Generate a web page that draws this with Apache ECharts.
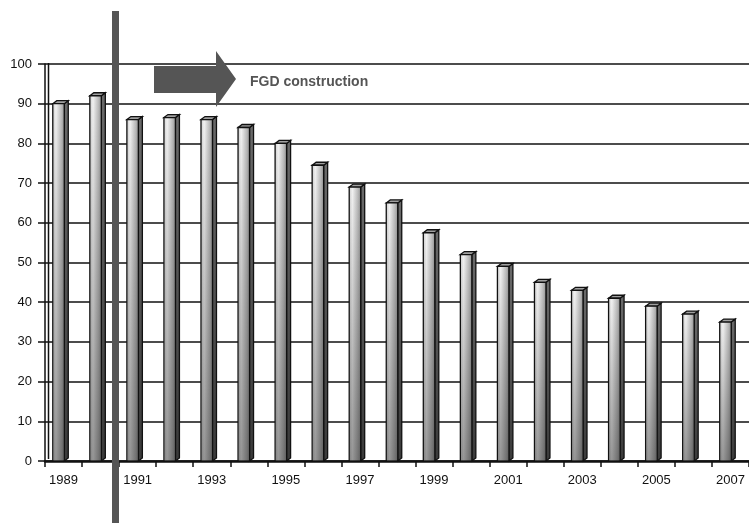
<!DOCTYPE html>
<html><head><meta charset="utf-8">
<script src="https://cdn.jsdelivr.net/npm/echarts@6/dist/echarts.min.js"></script>
<style>html,body{margin:0;padding:0;background:#fff}#c{width:749px;height:523px}</style>
</head><body><div id="c"></div>
<script>
const years = ['1989','1990','1991','1992','1993','1994','1995','1996','1997','1998','1999','2000','2001','2002','2003','2004','2005','2006','2007'];
const values = [90, 92, 86, 86.5, 86, 84, 80, 74.5, 69, 65, 57.5, 52, 49, 45, 43, 41, 39, 37, 35];
const yTicks = {min: 0, max: 100, interval: 10};
const annotationText = 'FGD construction';

const chart = echarts.init(document.getElementById('c'), null, {renderer: 'canvas'});
const seriesData = values.map((v, i) => [i, v]);

function renderItem(params, api) {
  const top = api.coord([api.value(0), api.value(1)]);
  const base = api.coord([api.value(0), 0]);
  const bw = api.size([1, 0])[0];
  const x0 = top[0] - bw * 0.29;
  const w = bw * 0.31;
  const dx = 4, dy = 3;
  const ty = top[1], by = base[1];
  const stroke = '#111';
  return {
    type: 'group',
    children: [
      {type: 'polygon', shape: {points: [[x0 + w, ty], [x0 + w + dx, ty - dy], [x0 + w + dx, by - dy], [x0 + w, by]]},
       style: {fill: new echarts.graphic.LinearGradient(0, 0, 0, 1, [{offset: 0, color: '#6a6a6a'}, {offset: 1, color: '#3a3a3a'}]), stroke: stroke, lineWidth: 1.3}},
      {type: 'polygon', shape: {points: [[x0, ty], [x0 + dx, ty - dy], [x0 + w + dx, ty - dy], [x0 + w, ty]]},
       style: {fill: '#a0a0a0', stroke: stroke, lineWidth: 1.3}},
      {type: 'rect', shape: {x: x0, y: ty, width: w, height: by - ty},
       style: {fill: new echarts.graphic.LinearGradient(0, 0, 1, 0, [
         {offset: 0, color: '#c8c8c8'}, {offset: 0.3, color: '#f2f2f2'}, {offset: 0.75, color: '#b8b8b8'}, {offset: 1, color: '#8a8a8a'}]),
         stroke: stroke, lineWidth: 1.3}},
      {type: 'rect', shape: {x: x0 + 0.7, y: ty + 0.7, width: w - 1.4, height: by - ty - 1.4},
       style: {fill: new echarts.graphic.LinearGradient(0, 0, 0, 1, [
         {offset: 0, color: 'rgba(0,0,0,0)'}, {offset: 1, color: 'rgba(0,0,0,0.38)'}])}}
    ]
  };
}

chart.setOption({
  animation: false,
  backgroundColor: '#fff',
  textStyle: {fontFamily: 'Liberation Sans, Arial, sans-serif'},
  grid: {left: 45, top: 64, width: 716, height: 397, containLabel: false},
  xAxis: {
    type: 'category', data: years, boundaryGap: true,
    axisLine: {show: true, lineStyle: {color: '#111', width: 2.5}},
    axisTick: {show: true, interval: 0, length: 6, lineStyle: {color: '#111', width: 1.5}},
    axisLabel: {interval: 1, color: '#111', fontSize: 13, margin: 13, fontFamily: 'Liberation Sans, Arial, sans-serif'},
    splitLine: {show: false}
  },
  yAxis: {
    type: 'value', min: yTicks.min, max: yTicks.max, interval: yTicks.interval,
    axisLine: {show: true, lineStyle: {color: '#111', width: 1.5}},
    axisTick: {show: true, length: 7, lineStyle: {color: '#111', width: 1.5}},
    axisLabel: {color: '#111', fontSize: 13, margin: 13, fontFamily: 'Liberation Sans, Arial, sans-serif'},
    splitLine: {show: true, lineStyle: {color: '#111', width: 1.7}}
  },
  series: [{type: 'custom', renderItem: renderItem, data: seriesData, encode: {x: 0, y: 1}, clip: false, z: 3}],
  graphic: [
    {type: 'line', shape: {x1: 48.5, y1: 63, x2: 48.5, y2: 459}, style: {stroke: '#111', lineWidth: 1.5}, z: 2},
    {type: 'rect', shape: {x: 112, y: 11, width: 7, height: 520}, style: {fill: '#555'}, z: 10},
    {type: 'polygon', shape: {points: [[154, 66], [216, 66], [216, 51], [236, 79], [216, 107], [216, 93], [154, 93]]}, style: {fill: '#555'}, z: 10},
    {type: 'text', x: 250, y: 82, style: {text: annotationText, fill: '#555', font: 'bold 14px "Liberation Sans", Arial, sans-serif', verticalAlign: 'middle'}, z: 10}
  ]
});
</script></body></html>
